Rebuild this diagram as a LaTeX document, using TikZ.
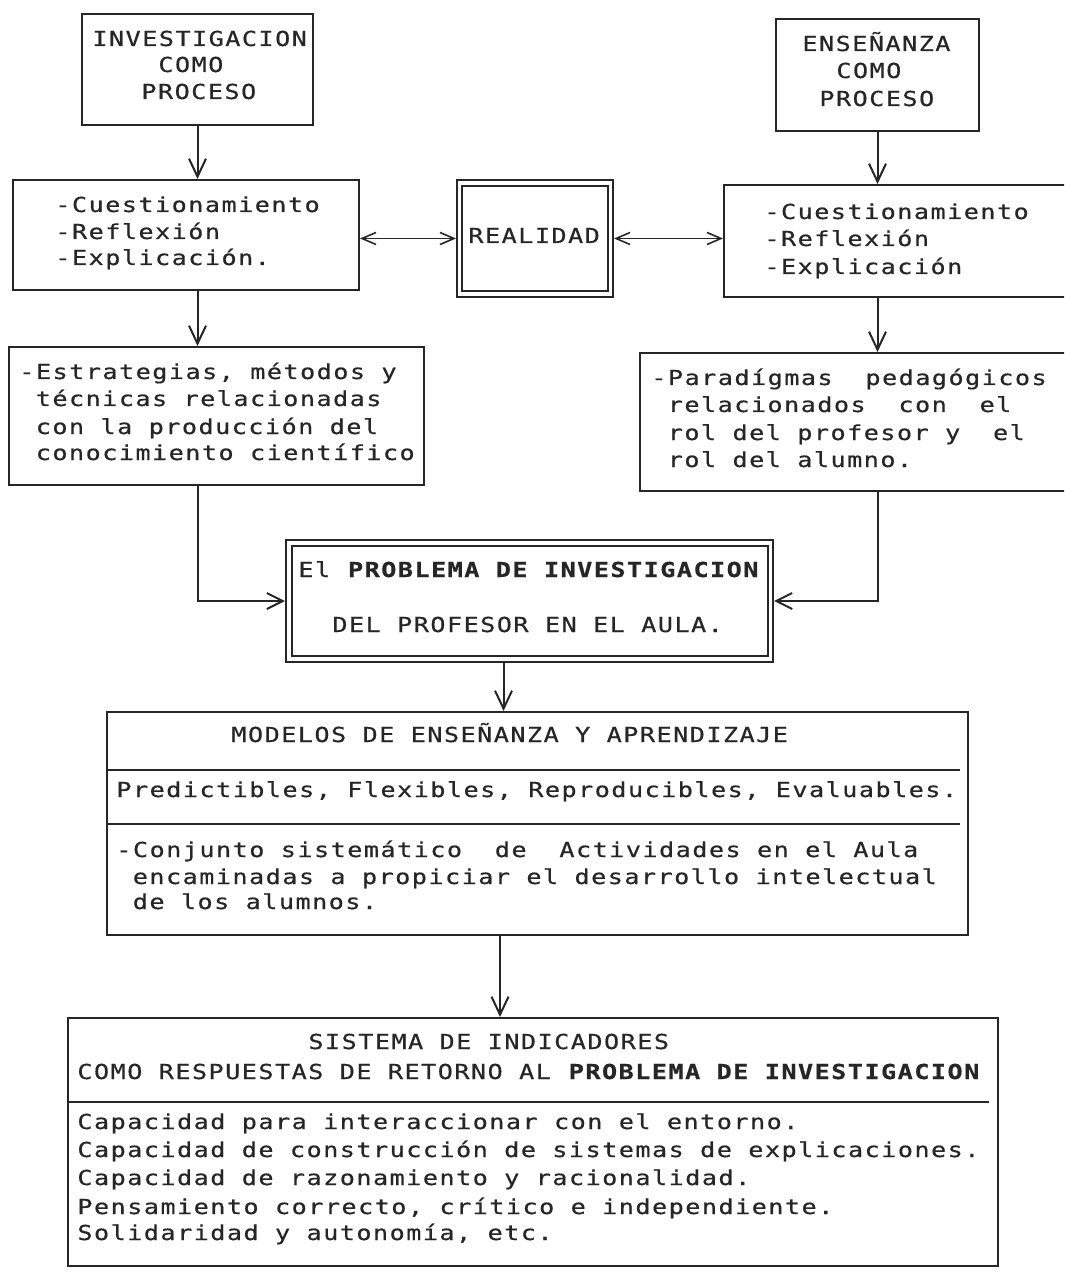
\documentclass[tikz,border=0pt]{standalone}
\usepackage{fontspec}
\setmonofont[FakeStretch=1.22,FakeBold=0.6,LetterSpace=7.2]{DejaVu Sans Mono}
\usetikzlibrary{arrows.meta,fit}
\definecolor{ink}{RGB}{38,38,38}
% typewriter face with fixed, non-stretching blanks
\newcommand{\typeface}{\ttfamily\fontsize{10.3pt}{13.5pt}\selectfont\frenchspacing
  \spaceskip=8.2pt\relax\xspaceskip=8.2pt\relax}
% one blank character cell of the typewriter font
\newcommand{\ind}{\hspace*{8.2pt}}
\begin{document}
\begin{tikzpicture}[
  x=0.5pt, y=-0.5pt,
  box/.style={draw=ink, line width=1pt, inner sep=0pt},
  txt/.style={inner sep=0pt, anchor=base west, text=ink, font={\typeface}},
  arr/.style={draw=ink, line width=1pt, -{Straight Barb[length=9pt,width=8.5pt]}},
  arrside/.style={draw=ink, line width=1pt, -{Straight Barb[length=8pt,width=8pt]}},
  dbl/.style={draw=ink, line width=0.8pt,
    {Straight Barb[length=7pt,width=6pt]}-{Straight Barb[length=7pt,width=6pt]}},
  rule/.style={draw=ink, line width=1pt}
]
\useasboundingbox (0,0) rectangle (1064,1272);
\clip (0,0) rectangle (1064,1272);

% --- top row: the two processes
\node[box, fit={(82,14) (313,125)}] (A) {};
\node[txt] (a1) at (92,46) {INVESTIGACION};
\node[txt] (a2) at (158,72) {COMO};
\node[txt] (a3) at (141,99) {PROCESO};

\node[box, fit={(776,19) (979,131)}] (B) {};
\node[txt] (b1) at (802,51) {ENSEÑANZA};
\node[txt] (b2) at (836,78) {COMO};
\node[txt] (b3) at (819,106) {PROCESO};

% --- second row
\node[box, fit={(13,180) (359,290)}] (C) {};
\node[txt] (c1) at (55,212) {-Cuestionamiento};
\node[txt] (c2) at (55,239) {-Reflexión};
\node[txt] (c3) at (55,265) {-Explicación.};

\node[box, fit={(457,180) (613,297)}] (R) {};
\node[box, fit={(462,186) (608,291)}] (Rin) {};
\node[txt] (r1) at (468,243) {REALIDAD};

\node[box, fit={(724,185) (1070,297)}] (D) {};
\node[txt] (d1) at (764,219) {-Cuestionamiento};
\node[txt] (d2) at (764,246) {-Reflexión};
\node[txt] (d3) at (764,274) {-Explicación};

% --- third row
\node[box, fit={(9,347) (424,485)}] (E) {};
\node[txt] (e1) at (19,379) {-Estrategias, métodos y};
\node[txt] (e2) at (19,406) {\ind técnicas relacionadas};
\node[txt] (e3) at (19,434) {\ind con la producción del};
\node[txt] (e4) at (19,460) {\ind conocimiento científico};

\node[box, fit={(640,353) (1070,491)}] (F) {};
\node[txt] (f1) at (651,385) {-Paradígmas\ \ pedagógicos};
\node[txt] (f2) at (651,412) {\ind relacionados\ \ con\ \ el};
\node[txt] (f3) at (651,440) {\ind rol del profesor y\ \ el};
\node[txt] (f4) at (651,467) {\ind rol del alumno.};

% --- central problem (double frame)
\node[box, fit={(286,540) (773,662)}] (G) {};
\node[box, fit={(292,546) (768,656)}] (Gin) {};
\node[txt] (g1) at (298,577) {El \textbf{PROBLEMA DE INVESTIGACION}};
\node[txt] (g2) at (332,632) {DEL PROFESOR EN EL AULA.};

% --- models
\node[box, fit={(107,712) (968,935)}] (H) {};
\node[txt] (h1) at (231,742) {MODELOS DE ENSEÑANZA Y APRENDIZAJE};
\draw[rule] (107,770) -- (960,770);
\node[txt] (h2) at (116,797) {Predictibles, Flexibles, Reproducibles, Evaluables.};
\draw[rule] (107,824) -- (960,824);
\node[txt] (h3) at (116,857) {-Conjunto sistemático\ \ de\ \ Actividades en el Aula};
\node[txt] (h4) at (116,884) {\ind encaminadas a propiciar el desarrollo intelectual};
\node[txt] (h5) at (116,909) {\ind de los alumnos.};

% --- indicators
\node[box, fit={(68,1018) (998,1266)}] (I) {};
\node[txt] (i1) at (308,1049) {SISTEMA DE INDICADORES};
\node[txt] (i2) at (77,1079) {COMO RESPUESTAS DE RETORNO AL \textbf{PROBLEMA DE INVESTIGACION}};
\draw[rule] (68,1102) -- (989,1102);
\node[txt] (i3) at (77,1129) {Capacidad para interaccionar con el entorno.};
\node[txt] (i4) at (77,1157) {Capacidad de construcción de sistemas de explicaciones.};
\node[txt] (i5) at (77,1185) {Capacidad de razonamiento y racionalidad.};
\node[txt] (i6) at (77,1214) {Pensamiento correcto, crítico e independiente.};
\node[txt] (i7) at (77,1240) {Solidaridad y autonomía, etc.};

% --- connectors
\draw[arr] (A.south) -- (A.south |- C.north);
\draw[arr] (A.south |- C.south) -- (A.south |- E.north);
\draw[arr] (B.south) -- (B.south |- D.north);
\draw[arr] (B.south |- D.south) -- (B.south |- F.north);
\draw[dbl] (R.west -| C.east) -- (R.west);
\draw[dbl] (R.east) -- (R.east -| D.west);
\draw[arrside] (A.south |- E.south) -- (A.south |- G.west) -- (G.west);
\draw[arrside] (B.south |- F.south) -- (B.south |- G.east) -- (G.east);
\draw[arr] ([xshift=-13pt]G.south) -- ([xshift=-13pt]G.south |- H.north);
\draw[arr] ([xshift=-18.75pt]H.south) -- ([xshift=-18.75pt]H.south |- I.north);
\end{tikzpicture}
\end{document}
